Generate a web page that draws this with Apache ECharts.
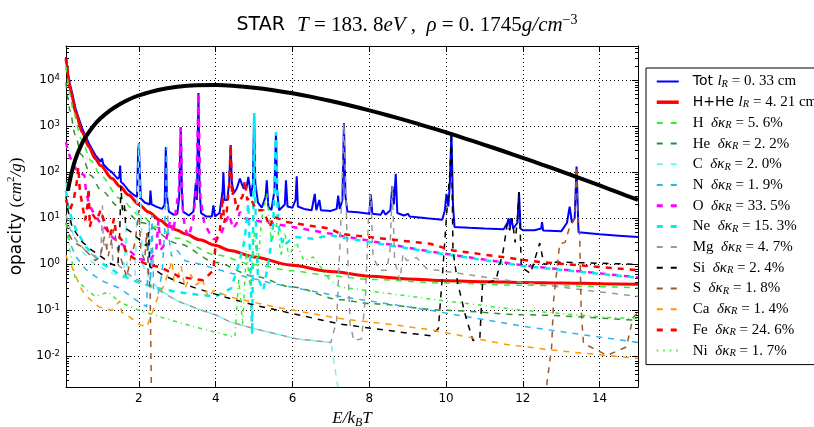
<!DOCTYPE html>
<html><head><meta charset="utf-8">
<script src="https://cdn.jsdelivr.net/npm/echarts@6/dist/echarts.min.js"></script>
<style>html,body{margin:0;padding:0;background:#fff}#c{width:814px;height:427px}</style>
</head><body><div id="c"></div>
<script>
// ---------------- data (E/kT, opacity cm^2/g) ----------------
const xTicks = [2, 4, 6, 8, 10, 12, 14];
const xRange = [0.1, 15];
const yRange = [0.00215, 55700];

const dataTot = [[0.1,32000],[0.15,14000],[0.2,8500],[0.26,5300],[0.35,2400],[0.52,900],[0.7,420],[0.86,240],[1.0,170],[1.02,175],[1.04,200],[1.07,150],[1.2,115],[1.3,100],[1.45,72],[1.49,80],[1.51,140],[1.53,62],[1.6,55],[1.73,40],[1.85,33],[1.95,29],[1.98,300],[2.0,430],[2.02,120],[2.05,27],[2.15,22],[2.28,20],[2.3,40],[2.33,20],[2.45,18],[2.6,16],[2.67,20],[2.7,355],[2.73,30],[2.78,14],[2.9,12],[3.0,12.5],[3.05,30],[3.09,960],[3.12,40],[3.15,14],[3.3,11.5],[3.42,14],[3.48,58],[3.51,25],[3.55,5300],[3.58,40],[3.62,13],[3.75,11],[3.9,11],[3.94,19],[3.98,11],[4.1,13],[4.18,40],[4.2,100],[4.23,25],[4.3,25],[4.35,60],[4.39,390],[4.42,60],[4.47,35],[4.55,45],[4.63,73],[4.72,45],[4.8,45],[4.85,79],[4.92,30],[4.97,60],[5.0,1950],[5.03,60],[5.1,22],[5.2,17],[5.3,30],[5.33,67],[5.37,18],[5.45,15],[5.53,40],[5.57,755],[5.6,40],[5.65,15],[5.8,20],[5.83,67],[5.87,18],[6.0,17],[6.08,25],[6.11,82],[6.14,18],[6.3,16],[6.5,15],[6.58,34],[6.62,15],[6.7,25],[6.74,15],[7.0,14.5],[7.15,16],[7.19,31],[7.23,16],[7.3,25],[7.34,1180],[7.38,30],[7.43,14],[7.7,13.5],[8.0,12.5],[8.04,33],[8.08,12.5],[8.3,12],[8.36,15],[8.42,12],[8.55,15],[8.6,50],[8.64,20],[8.69,93],[8.73,13],[8.9,11.5],[9.01,12.5],[9.05,11],[9.5,10],[9.9,9.3],[9.97,15],[10.01,34],[10.06,18],[10.1,60],[10.14,750],[10.18,20],[10.22,6.5],[10.6,6.2],[11.0,6.0],[11.5,5.8],[11.6,8],[11.63,10],[11.66,6.5],[11.7,10],[11.75,6],[11.86,8],[11.9,37],[11.94,6],[12.0,5.5],[12.3,5.5],[12.48,6],[12.5,8.3],[12.53,5.4],[13.0,5.2],[13.15,8],[13.22,18],[13.28,8],[13.35,10],[13.4,134],[13.45,5],[13.5,4.8],[14.0,4.5],[14.5,4.2],[15,3.9]];
const dataHHe = [[0.1,30000],[0.12,22000],[0.15,13000],[0.2,7000],[0.26,4300],[0.35,2000],[0.52,750],[0.7,350],[0.86,200],[1.0,140],[1.3,73],[1.5,50],[1.73,32],[2.0,20],[2.25,13.7],[2.55,9.1],[2.77,6.8],[3.0,5.5],[3.2,4.6],[3.59,3.4],[3.98,2.6],[4.37,2.0],[5.0,1.45],[5.93,0.97],[7.0,0.7],[8.0,0.55],[9.0,0.48],[10,0.44],[11,0.42],[12,0.4],[13,0.39],[14,0.38],[15,0.37]];
const dataH = [[0.1,20000],[0.15,9500],[0.2,5000],[0.3,1900],[0.5,520],[0.75,180],[1.0,85],[1.5,27],[2.0,12],[2.5,6.3],[3.0,3.7],[4.0,1.6],[5.0,0.98],[6.0,0.72],[7.0,0.56],[8.0,0.47],[10,0.39],[12,0.35],[15,0.31]];
const dataHe = [[0.1,9000],[0.15,4000],[0.2,2200],[0.34,650],[0.5,240],[0.75,85],[1.0,42],[1.47,18],[2.08,8],[3.03,2.8],[4.0,1.1],[5.0,0.55],[6.0,0.32],[7.24,0.17],[8.0,0.14],[10,0.1],[12,0.08],[15,0.06]];
const dataC = [[0.1,60],[0.13,20],[0.2,8],[0.3,4],[0.5,2],[0.8,1.1],[1.2,0.7],[1.6,0.5],[1.67,8],[1.7,0.6],[1.9,0.5],[1.96,40],[2.0,420],[2.04,30],[2.1,1.0],[2.2,0.6],[2.5,0.3],[3.0,0.16],[3.5,0.11],[4.02,0.078],[4.37,0.056],[5.0,0.04],[6.1,0.024],[7.0,0.02],[7.3,0.0005]];
const dataN = [[0.1,8],[0.2,3],[0.35,1.5],[0.6,0.8],[1.0,0.45],[1.5,0.3],[2.0,0.15],[2.2,0.12],[2.27,9],[2.3,0.3],[2.34,12],[2.38,0.3],[2.5,0.23],[2.6,0.63],[2.67,5],[2.72,355],[2.76,5],[2.85,1.5],[3.0,2],[3.2,1.2],[3.6,1.0],[4.37,0.65],[5.5,0.38],[7.24,0.2],[9.58,0.1],[12,0.045],[15,0.02]];
const dataO = [[0.1,450],[0.15,300],[0.2,220],[0.3,140],[0.43,100],[0.58,86],[0.62,40],[0.7,20],[0.9,10],[1.21,5],[1.3,3.9],[1.64,2.4],[2.0,1.3],[2.29,1.2],[2.45,2],[2.51,9],[2.56,2],[2.7,3],[2.81,9],[2.9,5],[2.97,17],[3.04,40],[3.09,960],[3.13,20],[3.2,6],[3.3,4],[3.42,10],[3.5,60],[3.55,5300],[3.6,30],[3.7,8],[3.85,4.5],[3.95,3.5],[4.11,3.9],[4.25,8],[4.35,12],[4.45,6],[4.54,7.6],[4.63,13.7],[4.75,10],[5.0,9],[6.0,6.5],[7.0,4.6],[7.24,4.2],[9.58,1.9],[12,0.95],[15,0.52]];
const dataNe = [[0.1,40],[0.15,20],[0.2,13],[0.35,6],[0.6,2.5],[1.0,1.1],[1.5,0.6],[2.0,0.4],[2.5,0.3],[3.0,0.25],[3.5,0.22],[4.0,0.2],[4.4,0.3],[4.6,1],[4.75,3.3],[4.85,21],[4.9,1],[4.95,0.03],[4.98,20],[5.0,1950],[5.03,20],[5.1,0.5],[5.24,0.27],[5.4,1.5],[5.5,7.6],[5.57,755],[5.62,8],[5.75,2.5],[5.93,3.3],[6.1,3.9],[6.54,3.6],[7.0,4.3],[7.24,3.9],[9.58,1.85],[12,0.92],[15,0.51]];
const dataMg = [[0.1,12],[0.2,6],[0.35,3.5],[0.6,2],[0.9,1.4],[1.0,1.5],[1.03,5],[1.05,19],[1.07,3],[1.15,2],[1.28,6],[1.32,1.2],[1.5,0.9],[1.7,0.65],[1.85,0.5],[2.0,0.45],[2.5,0.28],[3.0,0.16],[3.5,0.11],[4.02,0.078],[4.37,0.056],[5.0,0.04],[6.1,0.024],[7.0,0.02],[7.15,0.06],[7.25,5],[7.34,1180],[7.42,4],[7.5,0.05],[7.6,0.022],[7.8,0.024],[7.9,0.2],[7.98,10],[8.04,33],[8.1,1.4],[8.28,0.74],[8.45,0.74],[8.54,2],[8.6,50],[8.66,1.2],[8.8,0.45],[8.88,1.7],[8.97,1.2],[9.23,1.4],[9.5,0.8],[10,0.7],[12,0.4],[15,0.2]];
const dataSi = [[0.1,30],[0.15,15],[0.26,6.5],[0.5,3.2],[0.78,2.0],[1.0,1.5],[1.3,1.0],[1.45,0.9],[1.5,5],[1.53,50],[1.57,15],[1.62,20],[1.66,6],[1.8,5],[2.0,3.5],[2.2,2.5],[2.25,5],[2.28,0.9],[2.6,0.6],[3.0,0.42],[3.5,0.3],[4.28,0.19],[5.0,0.13],[6.0,0.085],[7.24,0.05],[7.84,0.043],[9.0,0.032],[9.6,0.028],[9.8,0.04],[9.9,0.5],[10.0,8],[10.05,30],[10.1,100],[10.14,750],[10.18,2],[10.3,0.4],[10.5,0.08],[10.7,0.022],[10.88,0.025],[10.95,0.38],[11.3,0.45],[11.49,2],[11.6,8],[11.66,5.5],[11.72,10],[11.8,3],[11.86,10],[11.9,37],[11.96,0.87],[12.2,0.63],[12.44,2.9],[12.55,1.0],[12.88,1.12],[15,1.0]];
const dataS = [[0.1,8],[0.17,4.6],[0.3,3],[0.52,2.4],[0.86,1.2],[1.0,1.5],[1.1,4],[1.2,1.5],[1.35,6],[1.45,2],[1.55,1.2],[1.68,0.53],[1.8,1.5],[1.9,3],[2.0,15],[2.05,2],[2.15,1.2],[2.2,5],[2.25,0.7],[2.29,0.3],[2.33,0.0008],[12.55,0.0008],[12.75,0.016],[12.8,0.16],[12.96,2.8],[13.1,3],[13.22,6.5],[13.35,10],[13.4,134],[13.44,8],[13.48,4.6],[13.52,0.1],[13.58,0.019],[14.2,0.0105],[14.7,0.016],[14.87,0.07],[15,0.09]];
const dataCa = [[0.1,1.6],[0.15,1.2],[0.26,0.87],[0.4,0.45],[0.52,0.27],[0.7,0.18],[0.95,0.12],[1.3,0.1],[1.5,0.16],[1.55,0.09],[1.68,0.08],[2.0,0.05],[2.2,0.043],[2.37,0.1],[2.5,0.2],[2.63,0.32],[2.75,0.6],[2.86,1.2],[2.92,0.4],[2.98,0.45],[3.1,0.9],[3.2,0.3],[3.35,0.6],[3.5,0.35],[3.65,0.5],[3.8,0.19],[3.94,0.27],[4.37,0.195],[5.5,0.12],[7.24,0.066],[8.5,0.05],[9.58,0.038],[11.58,0.018],[13,0.013],[15,0.009]];
const dataFe = [[0.1,25],[0.15,18],[0.2,15],[0.3,25],[0.38,60],[0.42,130],[0.46,40],[0.55,15],[0.6,9],[0.66,20],[0.69,45],[0.72,6.5],[0.8,12],[0.9,9],[1.0,15],[1.12,7.6],[1.25,4],[1.35,10],[1.4,5],[1.56,3.3],[1.68,1.7],[1.9,1.3],[2.2,1.0],[2.55,0.87],[3.07,0.53],[3.67,0.45],[3.94,0.74],[4.0,3],[4.11,5.5],[4.18,30],[4.22,8],[4.28,12.6],[4.35,50],[4.39,390],[4.43,30],[4.46,40],[4.55,15],[4.63,24.5],[4.7,30],[4.76,67],[4.82,25],[4.89,29],[5.06,15],[5.24,15],[5.41,6.5],[5.5,11],[5.85,8.3],[6.4,7],[6.98,6],[7.24,4.6],[8.0,3.9],[9.58,2.8],[10.18,2.0],[12.44,1.12],[15,0.74]];
const dataNi = [[0.1,8],[0.2,2],[0.34,0.5],[0.6,0.3],[0.86,0.2],[1.2,0.25],[1.5,0.15],[2.0,0.1],[2.6,0.07],[3.47,0.043],[4.5,0.026],[4.6,0.5],[4.7,0.05],[4.8,2],[4.9,0.3],[5.0,5],[5.1,1],[5.2,10],[5.33,35],[5.45,3],[5.6,8],[5.7,1.5],[5.8,5],[5.9,1.5],[6.1,3],[6.3,1.2],[6.54,1.44],[6.98,0.45],[7.24,0.32],[9.84,0.165],[12,0.1],[14.2,0.07],[15,0.066]];
const dataWeight = [[0.15,40],[0.2,66],[0.3,145],[0.4,256],[0.5,397],[0.6,566],[0.8,983],[1.0,1491],[1.25,2228],[1.5,3032],[1.75,3882],[2.0,4692],[2.5,6165],[3.0,7236],[3.5,7805],[4.0,7882],[4.5,7546],[5.0,6915],[5.5,6108],[6.0,5230],[6.5,4361],[7.0,3553],[7.5,2838],[8.0,2227],[8.5,1721],[9.0,1312],[9.5,988],[10.0,736],[10.5,542],[11.0,396],[11.5,287],[12.0,206],[12.5,147],[13.0,105],[13.5,73.8],[14.0,51.8],[14.5,36.1],[15.0,25.1]];

const elemNames = ['H','He','C','N','O','Ne','Mg','Si','S','Ca','Fe','Ni'];
const elemDk = ['5. 6','2. 2','2. 0','1. 9','33. 5','15. 3','4. 7','2. 4','1. 8','1. 4','24. 6','1. 7'];
const lR = {Tot: '0. 33', 'H+He': '4. 21'};

// ---------------- styles ----------------
const elemData = [dataH, dataHe, dataC, dataN, dataO, dataNe, dataMg, dataSi, dataS, dataCa, dataFe, dataNi];
const elemColor = ['#33ee33','#2f8f2f','#70f5f5','#2cb5f0','#ff00ff','#00eeee','#999999','#000000','#9c5a2c','#ff9900','#ff0000','#33ee33'];
const elemWidth = [1.5,1.5,1.5,1.5,2.5,2.5,1.5,1.5,1.5,1.5,2.5,1.5];
const DASH = [6,6], DASHDOT = [4,4,1,4];

const SERIF = 'Liberation Serif', SANS = 'DejaVu Sans';
const richBase = {
  sa: {fontFamily: SANS, fontSize: 14, lineHeight: 16, color: '#000'},
  mr: {fontFamily: SERIF, fontSize: 15, lineHeight: 16, color: '#000'},
  mi: {fontFamily: SERIF, fontStyle: 'italic', fontSize: 15, lineHeight: 16, color: '#000'},
  sb: {fontFamily: SERIF, fontStyle: 'italic', fontSize: 10.5, lineHeight: 10, verticalAlign: 'bottom', color: '#000'}
};

function lineSeries(name, data, color, width, type, extra) {
  return Object.assign({
    type: 'line', name: name, data: data, symbol: 'none', showSymbol: false,
    lineStyle: {color: color, width: width, type: type},
    itemStyle: {color: color}, animation: false, emphasis: {disabled: true}, silent: true
  }, extra || {});
}

const series = [];
series.push(lineSeries('Tot', dataTot, '#0000ff', 2, 'solid'));
series.push(lineSeries('H+He', dataHHe, '#ff0000', 3, 'solid', {smooth: 0.3, smoothMonotone: 'x'}));
elemNames.forEach((n, i) => {
  series.push(lineSeries(n, elemData[i], elemColor[i], elemWidth[i], n === 'Ni' ? DASHDOT : DASH,
    (n === 'H' || n === 'He') ? {smooth: 0.3, smoothMonotone: 'x'} : {}));
});
series.push(lineSeries('weight', dataWeight, '#000000', 4, 'solid', {smooth: 0.4}));

const legendData = [
  {name: 'Tot', lineStyle: {width: 2, type: 'solid'}},
  {name: 'H+He', lineStyle: {width: 3.5, type: 'solid'}}
].concat(elemNames.map((n, i) => ({name: n, lineStyle: {width: elemWidth[i] + 0.5, type: n === 'Ni' ? [1.5,5] : [6,8]}})))
 .map(d => Object.assign(d, {itemStyle: {opacity: 0, borderWidth: 0}}));

function legendText(name) {
  if (lR[name]) return '{sa|' + name + ' }{mi|l}{sb|R}{mr| = ' + lR[name] + ' cm}';
  const i = elemNames.indexOf(name);
  return '{mr|' + name + '  }{mi|δκ}{sb|R}{mr| = ' + elemDk[i] + '%}';
}

function isPow10(v) { const l = Math.log10(v); return Math.abs(l - Math.round(l)) < 1e-6; }

const axisLineStyle = {color: '#000', width: 1};
const option = {
  backgroundColor: '#fff',
  animation: false,
  title: {
    left: 'center', top: 8,
    text: '{sa|STAR  }{mi|T}{mr| = 183. 8}{mi|eV} {mr|,  }{mi|ρ}{mr| = 0. 1745}{mi|g/cm}{sp|−3}',
    textStyle: {
      fontWeight: 'normal',
      rich: {
        sa: {fontFamily: SANS, fontSize: 19, fontWeight: 'normal', lineHeight: 24, color: '#000'},
        mr: {fontFamily: SERIF, fontSize: 21, fontWeight: 'normal', lineHeight: 24, color: '#000'},
        mi: {fontFamily: SERIF, fontStyle: 'italic', fontWeight: 'normal', fontSize: 21, lineHeight: 24, color: '#000'},
        sp: {fontFamily: SERIF, fontSize: 14, fontWeight: 'normal', lineHeight: 12, verticalAlign: 'top', color: '#000'}
      }
    }
  },
  grid: {left: 66, right: 176, top: 46, bottom: 40, outerBoundsMode: 'none', containLabel: false},
  legend: {
    orient: 'vertical', left: 646, top: 68,
    padding: [6, 40, 6, 9], itemWidth: 22, itemHeight: 14, itemGap: 5.2,
    borderColor: '#000', borderWidth: 1, backgroundColor: '#fff', borderRadius: 0,
    selectedMode: false, data: legendData, formatter: legendText,
    textStyle: {rich: richBase, padding: [0, 0, 0, 9]}
  },
  xAxis: [{
    type: 'value', position: 'bottom', min: xRange[0], max: xRange[1],
    axisLine: {show: true, onZero: false, lineStyle: axisLineStyle},
    axisTick: {show: true, inside: true, length: 6, customValues: xTicks, lineStyle: axisLineStyle},
    axisLabel: {customValues: xTicks, fontFamily: SANS, fontSize: 12, color: '#000', margin: 6},
    splitLine: {show: true, lineStyle: {color: '#000', width: 1, type: [1, 3]}},
    name: '{mi|E/k}{sb|B}{mi|T}', nameLocation: 'middle', nameGap: 17,
    nameTextStyle: {rich: {
      mi: {fontFamily: SERIF, fontStyle: 'italic', fontSize: 17, lineHeight: 20, color: '#000'},
      sb: {fontFamily: SERIF, fontStyle: 'italic', fontSize: 12, lineHeight: 12, verticalAlign: 'bottom', color: '#000'}
    }}
  }, {
    type: 'value', position: 'top', min: xRange[0], max: xRange[1],
    axisLine: {show: true, onZero: false, lineStyle: axisLineStyle},
    axisTick: {show: true, inside: true, length: 6, customValues: xTicks, lineStyle: axisLineStyle},
    axisLabel: {show: false}, splitLine: {show: false}
  }],
  yAxis: [{
    type: 'log', logBase: 10, position: 'left', min: yRange[0], max: yRange[1],
    axisLine: {show: true, onZero: false, lineStyle: axisLineStyle},
    axisTick: {show: true, inside: true, length: 6, lineStyle: axisLineStyle},
    minorTick: {show: true, splitNumber: 9, length: 3, lineStyle: axisLineStyle},
    axisLabel: {
      color: '#000', margin: 6,
      formatter: v => isPow10(v) ? '{b|10}{s|' + Math.round(Math.log10(v)) + '}' : '',
      rich: {
        b: {fontFamily: SANS, fontSize: 12, lineHeight: 14, color: '#000'},
        s: {fontFamily: SANS, fontSize: 8.5, lineHeight: 8, verticalAlign: 'top', color: '#000'}
      }
    },
    splitLine: {show: true, lineStyle: {color: '#000', width: 1, type: [1, 3]}},
    name: '{sa|opacity }{mr|(}{mi|cm}{sp|2}{mi|/g}{mr|)}', nameLocation: 'middle', nameGap: 34, nameRotate: 90,
    nameTextStyle: {rich: {
      sa: {fontFamily: SANS, fontSize: 17, lineHeight: 22, color: '#000'},
      mr: {fontFamily: SERIF, fontSize: 17, lineHeight: 22, color: '#000'},
      mi: {fontFamily: SERIF, fontStyle: 'italic', fontSize: 17, lineHeight: 22, color: '#000'},
      sp: {fontFamily: SERIF, fontSize: 11, lineHeight: 12, verticalAlign: 'top', color: '#000'}
    }}
  }, {
    type: 'log', logBase: 10, position: 'right', min: yRange[0], max: yRange[1],
    axisLine: {show: true, onZero: false, lineStyle: axisLineStyle},
    axisTick: {show: true, inside: true, length: 6, lineStyle: axisLineStyle},
    minorTick: {show: true, splitNumber: 9, length: 3, lineStyle: axisLineStyle},
    axisLabel: {show: false}, splitLine: {show: false}
  }],
  series: series
};

const chart = echarts.init(document.getElementById('c'), null, {renderer: 'canvas'});
chart.setOption(option);
</script>
</body></html>
